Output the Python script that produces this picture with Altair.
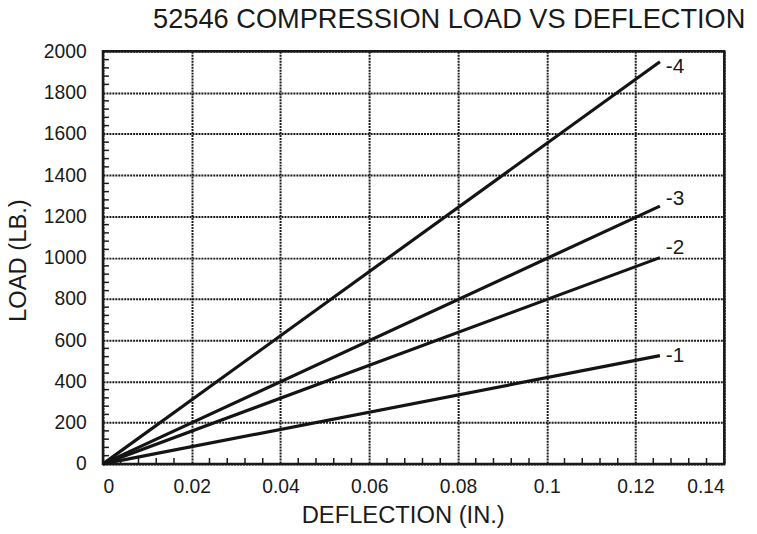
import altair as alt
import pandas as pd

# ---- data ----
series = ["-1", "-2", "-3", "-4"]
end_deflection = [0.1255, 0.1255, 0.1255, 0.1255]
end_load = [525, 1000, 1250, 1950]
label_dy = [0, -10, -7, 5]

x_ticks = [0, 0.02, 0.04, 0.06, 0.08, 0.1, 0.12, 0.14]
y_ticks = [0, 200, 400, 600, 800, 1000, 1200, 1400, 1600, 1800, 2000]
x_minor = [round(i * 0.004, 3) for i in range(1, 35) if i % 5]
y_minor = [i * 40 for i in range(1, 50) if i % 5]

FONT = "Liberation Sans"
W, H = 628, 417

rows = []
for s, xd, yl in zip(series, end_deflection, end_load):
    rows.append({"series": s, "deflection": 0.0, "load": 0.0})
    rows.append({"series": s, "deflection": xd, "load": yl})
lines_df = pd.DataFrame(rows)
ends_df = pd.DataFrame({"series": series, "deflection": end_deflection, "load": end_load})

xscale = alt.Scale(domain=[0, 0.14], nice=False, zero=True)
yscale = alt.Scale(domain=[0, 2000], nice=False, zero=True)

x_axis = alt.Axis(values=x_ticks, format="~g", title="DEFLECTION (IN.)",
                  grid=True, ticks=False, domain=False, labelPadding=14,
                  titleX=303, titleY=59, titleBaseline="alphabetic", titleAnchor="middle")
y_axis = alt.Axis(values=y_ticks, format="d", title="LOAD (LB.)",
                  grid=True, ticks=False, domain=False, labelPadding=17,
                  titleX=-78, titleY=211, titleBaseline="alphabetic", titleAngle=270)

X = alt.X("deflection:Q", scale=xscale, axis=x_axis)
Y = alt.Y("load:Q", scale=yscale, axis=y_axis)

lines = alt.Chart(lines_df).mark_line(color="#141414", strokeWidth=3.2, strokeCap="butt").encode(
    x=X, y=Y, detail="series:N",
)

layers = [lines]
for i, s in enumerate(series):
    sub = ends_df[ends_df["series"] == s]
    layers.append(
        alt.Chart(sub).mark_text(align="left", baseline="middle", fontSize=21, font=FONT,
                                 color="#1a1a1a", dx=6, dy=label_dy[i]).encode(
            x=X, y=Y, text="series:N",
        )
    )

xm = alt.Chart(pd.DataFrame({"deflection": x_minor})).mark_rule(color="#1a1a1a", strokeWidth=1.5).encode(
    x=X, y=alt.value(H), y2=alt.value(H - 6),
)
ym = alt.Chart(pd.DataFrame({"load": y_minor})).mark_rule(color="#1a1a1a", strokeWidth=1.5).encode(
    y=Y, x=alt.value(0), x2=alt.value(6),
)
layers += [xm, ym]

chart = alt.layer(*layers).properties(
    width=W, height=H,
    title=alt.TitleParams("52546 COMPRESSION LOAD VS DEFLECTION", fontSize=27.5, font=FONT,
                          fontWeight="normal", color="#1a1a1a", anchor="middle",
                          offset=8, dx=36),
    autosize=alt.AutoSizeParams(type="none"),
    padding={"left": 96, "top": 41, "right": 25, "bottom": 66},
).configure_view(
    stroke="#1a1a1a", strokeWidth=2.5
).configure_axis(
    labelFont=FONT, titleFont=FONT, labelFontSize=19.5, titleFontSize=24,
    labelColor="#1a1a1a", titleColor="#1a1a1a", titleFontWeight="normal",
    gridColor="#1a1a1a", gridDash=[2, 1], gridWidth=2, gridOpacity=1,
)

chart.save("out.html", embed_options={"renderer": "svg", "actions": False})
